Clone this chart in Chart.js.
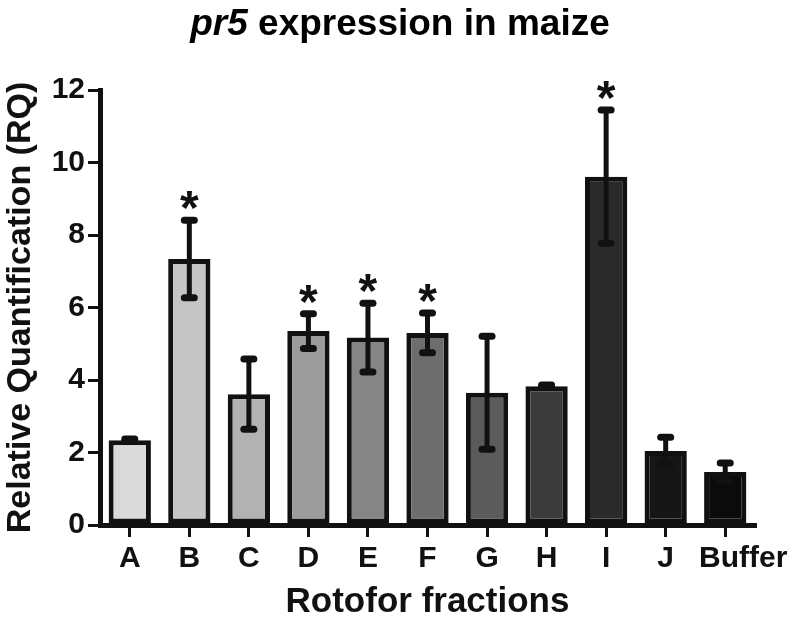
<!DOCTYPE html>
<html>
<head>
<meta charset="utf-8">
<script src="https://cdn.jsdelivr.net/npm/chart.js@4/dist/chart.umd.min.js"></script>
<style>
  html, body { margin: 0; padding: 0; background: #fff; }
  #wrap { position: relative; width: 797px; height: 625px; }
  #chart { position: absolute; left: 0; top: 0; }
  #title { position: absolute; left: 0; top: 4px; width: 800px; text-align: center;
           font-family: "Liberation Sans", Arial, sans-serif; font-weight: bold; font-size: 37px;
           line-height: 37px; color: #000; }
</style>
</head>
<body>
<div id="wrap">
  <canvas id="chart" width="797" height="625"></canvas>
  <div id="title"><i>pr5</i> expression in maize</div>
</div>
<script>
const categories = ["A", "B", "C", "D", "E", "F", "G", "H", "I", "J", "Buffer"];
const rqValues   = [2.34, 7.34, 3.61, 5.35, 5.17, 5.30, 3.65, 3.83, 9.61, 2.04, 1.46];
const rqErrors   = [0.03, 1.07, 0.97, 0.48, 0.95, 0.55, 1.56, 0.03, 1.84, 0.38, 0.25];
const significant = [false, true, false, true, true, true, false, false, true, false, false];
const barColors  = ["#dadada", "#c5c5c5", "#b2b2b2", "#9c9c9c", "#858585", "#6d6d6d",
                    "#5b5b5b", "#3b3b3b", "#2a2a2a", "#161616", "#0b0b0b"];
const yTicks = [0, 2, 4, 6, 8, 10, 12];

const FONT = "'Liberation Sans', Arial, sans-serif";

const errorBarPlugin = {
  id: 'errorBars',
  beforeDraw(chart) {
    // the last category label sits a little right of its tick, as in the reference
    const xs = chart.scales.x;
    const items = xs.getLabelItems(chart.chartArea);
    if (items && items.length) {
      const last = items[items.length - 1];
      if (!last._shifted) {
        last.options.translation[0] += 18;
        last._shifted = true;
      }
    }
  },
  afterDatasetsDraw(chart) {
    const ctx = chart.ctx;
    const yScale = chart.scales.y;
    const meta = chart.getDatasetMeta(0);
    ctx.save();
    ctx.strokeStyle = '#111';
    ctx.fillStyle = '#111';
    meta.data.forEach((bar, i) => {
      const x = bar.x;
      const yTop = yScale.getPixelForValue(rqValues[i] + rqErrors[i]);
      const yBot = yScale.getPixelForValue(rqValues[i] - rqErrors[i]);
      ctx.lineCap = 'butt';
      ctx.lineWidth = 5;
      ctx.beginPath();
      ctx.moveTo(x, yTop);
      ctx.lineTo(x, yBot);
      ctx.stroke();
      ctx.lineCap = 'round';
      ctx.lineWidth = 7;
      [yTop, yBot].forEach(y => {
        ctx.beginPath();
        ctx.moveTo(x - 5, y);
        ctx.lineTo(x + 5, y);
        ctx.stroke();
      });
      if (significant[i]) {
        ctx.font = 'bold 48px ' + FONT;
        ctx.textAlign = 'center';
        ctx.textBaseline = 'alphabetic';
        ctx.fillText('*', x, yTop + 4);
      }
    });
    ctx.restore();
  }
};

new Chart(document.getElementById('chart'), {
  type: 'bar',
  data: {
    labels: categories,
    datasets: [{
      data: rqValues,
      backgroundColor: barColors,
      borderColor: '#111',
      borderWidth: 5,
      borderSkipped: false,
      barPercentage: 0.71,
      categoryPercentage: 1.0
    }]
  },
  options: {
    responsive: false,
    animation: false,
    devicePixelRatio: 1,
    layout: { padding: { top: 90, right: 42, left: 0, bottom: 0 } },
    plugins: { legend: { display: false }, tooltip: { enabled: false }, title: { display: false } },
    scales: {
      x: {
        offset: true,
        grid: { display: true, drawOnChartArea: false, offset: false, drawTicks: true,
                tickLength: 12, tickWidth: 3, tickColor: '#111', lineWidth: 3, color: '#111' },
        border: { display: true, width: 5, color: '#111' },
        ticks: { color: '#111', font: { family: FONT, weight: 'bold', size: 30 }, padding: 4,
                 maxRotation: 0, autoSkip: false },
        title: { display: true, text: 'Rotofor fractions', color: '#111',
                 font: { family: FONT, weight: 'bold', size: 35 }, padding: { top: 4, bottom: 2 } },
        afterFit(s) { s.height = 100; }
      },
      y: {
        min: 0, max: 12,
        afterBuildTicks(s) { s.ticks = yTicks.map(v => ({ value: v })); },
        grid: { display: true, drawOnChartArea: false, drawTicks: true,
                tickLength: 12, tickWidth: 3, tickColor: '#111', lineWidth: 3, color: '#111' },
        border: { display: true, width: 5, color: '#111' },
        ticks: { color: '#111', font: { family: FONT, weight: 'bold', size: 30 }, padding: 3 },
        title: { display: true, text: 'Relative Quantification (RQ)', color: '#111',
                 font: { family: FONT, weight: 'bold', size: 34 }, padding: { top: 0, bottom: 0 } },
        afterFit(s) { s.width = 100; }
      }
    }
  },
  plugins: [errorBarPlugin]
});
</script>
</body>
</html>
